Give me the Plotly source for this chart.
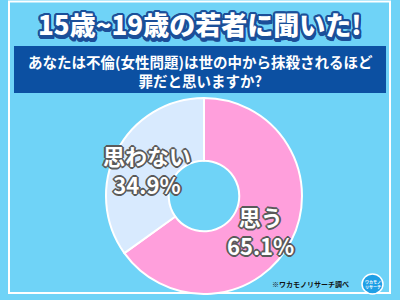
import plotly.graph_objects as go

title_text = "15歳~19歳の若者に聞いた!"
question_lines = ["あなたは不倫(女性問題)は世の中から抹殺されるほど", "罪だと思いますか?"]
labels = ["思う", "思わない"]
values = [65.1, 34.9]
colors = ["#ff9fdc", "#d8eafe"]
source_text = "※ワカモノリサーチ調べ"

W, H = 400, 300
BG = "#6fd3f7"
FONT = "Noto Sans CJK JP"

def px(x):
    return x / W

def py(y):
    return 1 - y / H

fig = go.Figure()
fig.add_trace(go.Pie(
    labels=labels, values=values, hole=0.36, sort=False, direction="clockwise",
    rotation=0, marker=dict(colors=colors, line=dict(color="white", width=2)),
    textinfo="none", textposition="none", hoverinfo="label+percent", showlegend=False,
    domain=dict(x=[px(106), px(302)], y=[py(294), py(98)]),
))

shapes = [
    dict(type="rect", xref="paper", yref="paper", x0=px(9), x1=px(390), y0=py(293), y1=py(1.5),
         line=dict(color="white", width=2), fillcolor="rgba(0,0,0,0)", layer="below"),
    dict(type="rect", xref="paper", yref="paper", x0=px(14), x1=px(386), y0=py(93), y1=py(46),
         line=dict(width=0), fillcolor="#0c50a2", layer="below"),
    dict(type="circle", xref="paper", yref="paper", x0=px(362), x1=px(383), y0=py(294), y1=py(274),
         line=dict(color="white", width=1.5), fillcolor="#1f9fe6"),
]

outline_dark = "#1b4f99"
t_offsets = [(-2, 0), (2, 0), (0, -2), (0, 2), (-1, -1), (1, -1), (-1, 1), (1, 1),
             (-2, -1), (2, -1), (-2, 1), (2, 1), (-1, -2), (1, -2), (-1, 2), (1, 2),
             (0, 3), (1, 3), (2, 3), (-1, 3), (0, 4), (1, 4), (2, 4)]
title_shadow = ", ".join([f"{dx}px {dy}px 0 {outline_dark}" for dx, dy in t_offsets])
gray = "#5a5a5a"
l_offsets = [(-1, -1), (1, -1), (-1, 1), (1, 1), (0, 2), (2, 0), (-2, 0), (0, -2)]
label_shadow = ", ".join([f"{dx}px {dy}px 0 {gray}" for dx, dy in l_offsets])

def ann(text, x, y, font):
    return dict(text=text, x=px(x), y=py(y), xref="paper", yref="paper", showarrow=False,
                xanchor="center", yanchor="middle", font=font)

annotations = [
    ann(title_text, 200, 24, dict(family=FONT, size=26, color="white", weight=900, shadow=title_shadow)),
    ann("<br>".join(question_lines), 200.5, 71.5, dict(family=FONT, size=14.5, color="white", weight=700)),
]

label_pos = {"思う": (260, 230.5), "思わない": (147, 169)}
for lab, val in zip(labels, values):
    x, y = label_pos[lab]
    annotations.append(ann(f"<b>{lab}</b><br>{val:.1f}%", x, y,
                           dict(family=FONT, size=22, color="white", weight=700, shadow=label_shadow)))

annotations.append(ann(source_text, 310, 284, dict(family=FONT, size=7, color="#111", weight=700)))
annotations.append(ann("ワカモノ<br>リサーチ", 372.5, 284, dict(family=FONT, size=4, color="white", weight=700)))

fig.update_layout(
    width=W, height=H, margin=dict(l=0, r=0, t=0, b=0),
    paper_bgcolor=BG, plot_bgcolor=BG,
    shapes=shapes, annotations=annotations,
)
fig.write_html("out.html")
